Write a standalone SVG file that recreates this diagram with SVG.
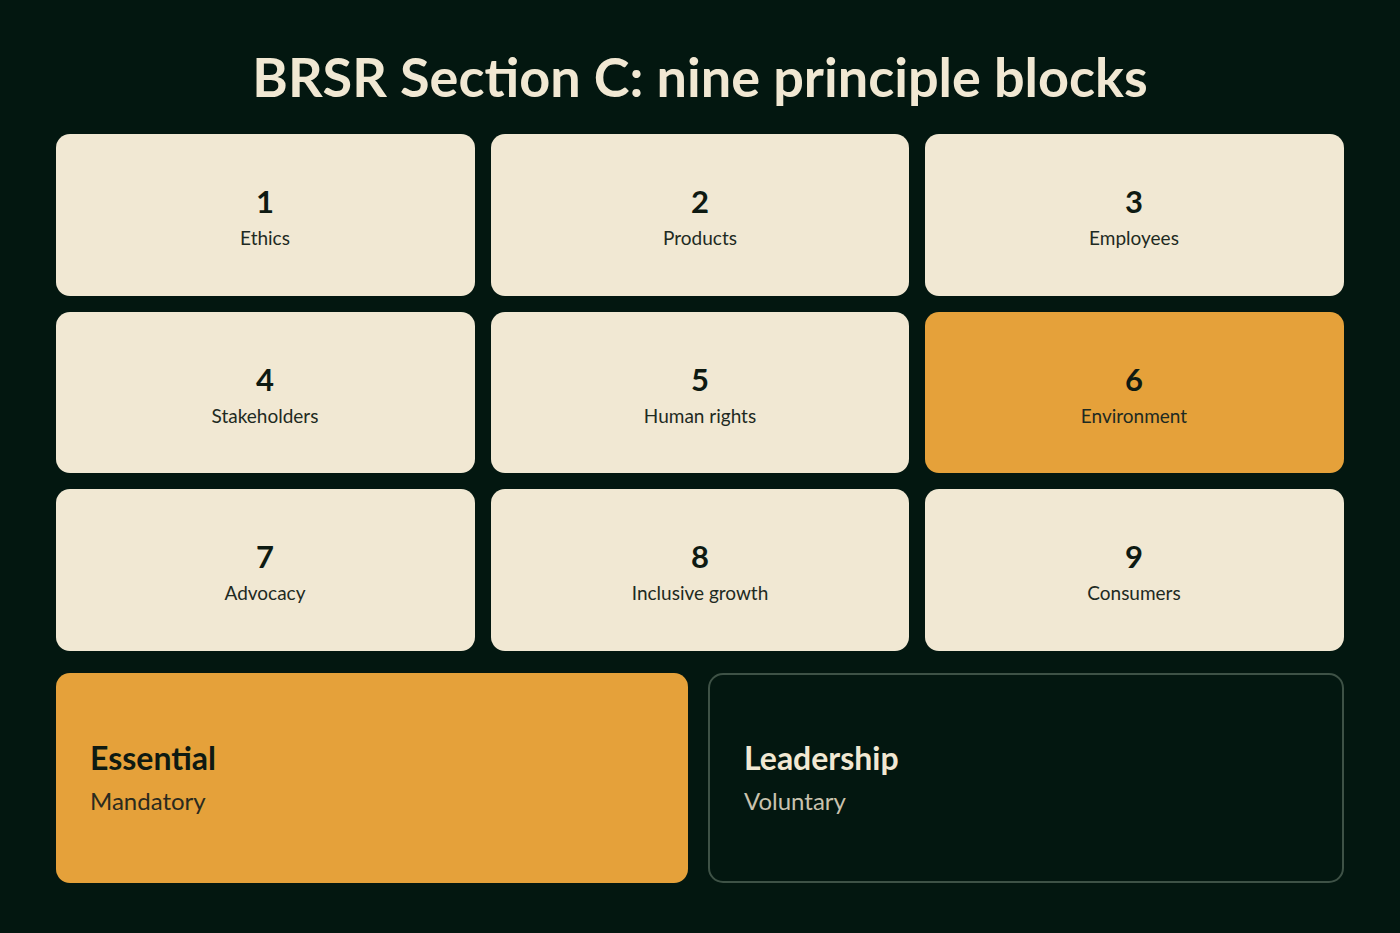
<svg xmlns="http://www.w3.org/2000/svg" width="1400" height="933" viewBox="0 0 1400 933">
<style>
text{font-family:"Lato","Noto Sans",sans-serif}
.c{fill:#f1e8d3}
.o{fill:#e5a13a}
.n{font-size:31px;font-weight:700;fill:#0e1a12;text-anchor:middle}
.l{font-size:19px;fill:#1e2a22;text-anchor:middle}
</style>
<rect width="1400" height="933" fill="#031710"/>
<text x="700" y="97" text-anchor="middle" font-size="54" font-weight="700" fill="#f1e8d3">BRSR Section C: nine principle blocks</text>
<g id="p1"><rect class="c" x="56" y="134" width="419" height="162" rx="14"/><text class="n" x="265" y="213">1</text><text class="l" x="265" y="245">Ethics</text></g>
<g id="p2"><rect class="c" x="491" y="134" width="418" height="162" rx="14"/><text class="n" x="700" y="213">2</text><text class="l" x="700" y="245">Products</text></g>
<g id="p3"><rect class="c" x="925" y="134" width="419" height="162" rx="14"/><text class="n" x="1134" y="213">3</text><text class="l" x="1134" y="245">Employees</text></g>
<g id="p4"><rect class="c" x="56" y="312" width="419" height="161" rx="14"/><text class="n" x="265" y="391">4</text><text class="l" x="265" y="423">Stakeholders</text></g>
<g id="p5"><rect class="c" x="491" y="312" width="418" height="161" rx="14"/><text class="n" x="700" y="391">5</text><text class="l" x="700" y="423">Human rights</text></g>
<g id="p6"><rect class="o" x="925" y="312" width="419" height="161" rx="14"/><text class="n" x="1134" y="391">6</text><text class="l" x="1134" y="423">Environment</text></g>
<g id="p7"><rect class="c" x="56" y="489" width="419" height="162" rx="14"/><text class="n" x="265" y="568">7</text><text class="l" x="265" y="600">Advocacy</text></g>
<g id="p8"><rect class="c" x="491" y="489" width="418" height="162" rx="14"/><text class="n" x="700" y="568">8</text><text class="l" x="700" y="600">Inclusive growth</text></g>
<g id="p9"><rect class="c" x="925" y="489" width="419" height="162" rx="14"/><text class="n" x="1134" y="568">9</text><text class="l" x="1134" y="600">Consumers</text></g>
<g id="essential"><rect class="o" x="56" y="673" width="632" height="210" rx="14"/><text x="90" y="770" font-size="32" font-weight="700" fill="#0e1a12">Essential</text><text x="90" y="810" font-size="24" fill="#2a2a1e">Mandatory</text></g>
<g id="leadership"><rect x="709" y="674" width="634" height="208" rx="14" fill="none" stroke="#3e5246" stroke-width="2"/><text x="744" y="770" font-size="32" font-weight="700" fill="#f1e8d3">Leadership</text><text x="744" y="810" font-size="24" fill="#c9c2ae">Voluntary</text></g>
<g id="connectors"/>
</svg>
